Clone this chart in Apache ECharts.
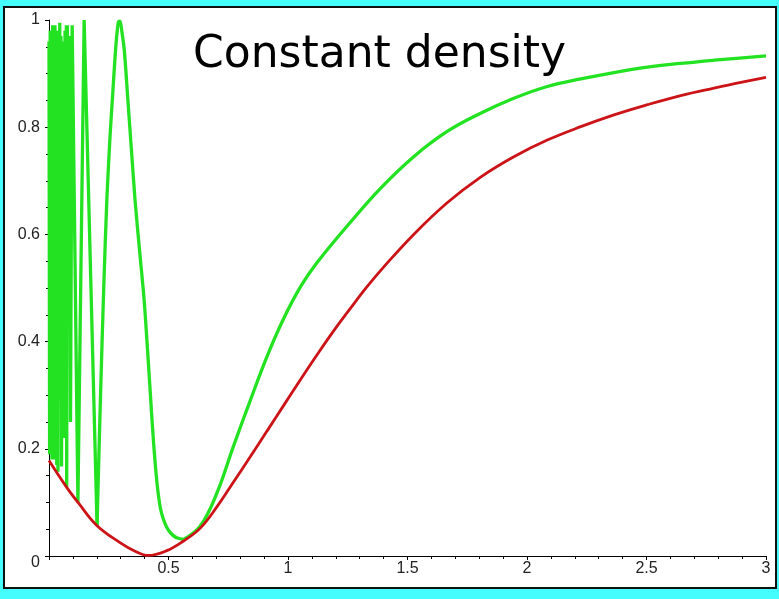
<!DOCTYPE html>
<html>
<head>
<meta charset="utf-8">
<script src="https://cdn.jsdelivr.net/npm/echarts@6/dist/echarts.min.js"></script>
<style>
html,body{margin:0;padding:0;background:#45fdfd;}
#chart{width:779px;height:599px;}
</style>
</head>
<body>
<div id="chart"></div>
<script>
// ---- data ----
const titleText = 'Constant density';
const xTicks = [0.5, 1, 1.5, 2, 2.5, 3];
const yTicks = [0, 0.2, 0.4, 0.6, 0.8, 1];

// red curve (lower envelope)
const redCurve = [
  [0.000, 0.178], [0.074, 0.128], [0.123, 0.099], [0.200, 0.057], [0.297, 0.025],
  [0.360, 0.009], [0.415, 0.001], [0.493, 0.010], [0.563, 0.028], [0.633, 0.052],
  [0.703, 0.092], [0.772, 0.138], [0.842, 0.185], [0.912, 0.233], [0.982, 0.281],
  [1.052, 0.329], [1.121, 0.375], [1.191, 0.420], [1.261, 0.462], [1.330, 0.502],
  [1.400, 0.539], [1.526, 0.600], [1.666, 0.659], [1.806, 0.707], [1.945, 0.745],
  [2.085, 0.776], [2.225, 0.801], [2.364, 0.823], [2.504, 0.842], [2.643, 0.859],
  [2.783, 0.873], [2.890, 0.883], [3.000, 0.893]
];

// green curve: fast oscillating part near zero (sharp zig-zag)
const greenSpikes = [
  [0.000, 0.96], [0.0025, 0.19], [0.005, 0.98], [0.0075, 0.35], [0.010, 0.97],
  [0.0125, 0.18], [0.015, 0.99], [0.0175, 0.50], [0.020, 0.96], [0.0225, 0.18],
  [0.025, 0.99], [0.0275, 0.30], [0.030, 0.97], [0.0325, 0.17], [0.035, 0.98],
  [0.0375, 0.157], [0.040, 0.96], [0.0425, 0.29], [0.045, 0.995], [0.0475, 0.42],
  [0.050, 0.97], [0.0525, 0.167], [0.055, 0.94], [0.058, 0.29], [0.061, 0.96],
  [0.064, 0.22], [0.067, 0.98], [0.070, 0.35], [0.0725, 0.99], [0.074, 0.128],
  [0.077, 0.99], [0.082, 0.45], [0.086, 0.97], [0.090, 0.25], [0.097, 0.99],
  [0.121, 0.100], [0.147, 1.00], [0.201, 0.057]
];

// green curve: rising to the last peak, then down to the minimum
const greenPeak = [
  [0.201, 0.057], [0.215, 0.290], [0.229, 0.500], [0.242, 0.664], [0.255, 0.780],
  [0.267, 0.865], [0.277, 0.935], [0.285, 0.978], [0.291, 0.997], [0.297, 0.998],
  [0.305, 0.978], [0.315, 0.944], [0.330, 0.851], [0.345, 0.757], [0.360, 0.664],
  [0.380, 0.565], [0.398, 0.478], [0.410, 0.400], [0.423, 0.310], [0.437, 0.215],
  [0.451, 0.140], [0.462, 0.100], [0.472, 0.078], [0.486, 0.060], [0.500, 0.048],
  [0.520, 0.038], [0.540, 0.033], [0.563, 0.031]
];

// green curve: slow rise after the minimum
const greenTail = [
  [0.563, 0.031], [0.633, 0.056], [0.703, 0.118], [0.772, 0.205], [0.842, 0.290],
  [0.912, 0.372], [0.982, 0.443], [1.052, 0.502], [1.121, 0.547], [1.254, 0.619],
  [1.387, 0.686], [1.526, 0.745], [1.666, 0.792], [1.806, 0.826], [1.945, 0.854],
  [2.085, 0.876], [2.225, 0.890], [2.364, 0.902], [2.504, 0.912], [2.643, 0.919],
  [2.783, 0.925], [2.890, 0.929], [3.000, 0.933]
];

const chart = echarts.init(document.getElementById('chart'), null, {renderer: 'canvas'});
const labelFont = 'Liberation Sans, Arial, Helvetica, sans-serif';
const green = '#22e222';

chart.setOption({
  backgroundColor: '#45fdfd',
  animation: false,
  title: {
    text: titleText,
    left: 193,
    top: 34,
    padding: 0,
    textStyle: {fontFamily: 'DejaVu Sans', fontSize: 44, fontWeight: 'normal', color: '#000'}
  },
  graphic: [{
    type: 'rect',
    z: -10,
    shape: {x: 4, y: 7, width: 772, height: 581},
    style: {fill: '#ffffff', stroke: '#111111', lineWidth: 2}
  }],
  grid: {left: 49, right: 13, top: 20, bottom: 43, containLabel: false},
  xAxis: {
    type: 'value', min: 0, max: 3, interval: 0.5,
    axisLine: {show: true, onZero: false, lineStyle: {color: '#000', width: 1}},
    axisTick: {show: true, length: 4, lineStyle: {color: '#000'}},
    minorTick: {show: true, splitNumber: 5, length: 3, lineStyle: {color: '#000'}},
    splitLine: {show: false},
    axisLabel: {
      fontFamily: labelFont, fontSize: 16, color: '#222', margin: 5,
      formatter: v => (xTicks.indexOf(v) >= 0 ? String(v) : '')
    }
  },
  yAxis: {
    type: 'value', min: 0, max: 1, interval: 0.2,
    axisLine: {show: true, onZero: false, lineStyle: {color: '#000', width: 1}},
    axisTick: {show: true, length: 4, lineStyle: {color: '#000'}},
    minorTick: {show: true, splitNumber: 4, length: 3, lineStyle: {color: '#000'}},
    splitLine: {show: false},
    axisLabel: {
      fontFamily: labelFont, fontSize: 16, color: '#222', margin: 9,
      formatter: v => {
        const t = yTicks.find(k => Math.abs(k - v) < 1e-9);
        if (t === undefined) return '';
        return t === 0 ? '{low|0}' : String(Math.round(t * 10) / 10);
      },
      rich: {low: {fontFamily: labelFont, fontSize: 16, color: '#222', lineHeight: 30, verticalAlign: 'bottom'}}
    }
  },
  series: [
    {
      type: 'line', data: greenSpikes, showSymbol: false, smooth: false,
      lineStyle: {color: green, width: 3.3}, z: 2
    },
    {
      type: 'line', data: greenPeak, showSymbol: false, smooth: 0.3,
      lineStyle: {color: green, width: 3.3}, z: 2
    },
    {
      type: 'line', data: greenTail, showSymbol: false, smooth: 0.4,
      lineStyle: {color: green, width: 3.3}, z: 2
    },
    {
      type: 'line', data: redCurve, showSymbol: false, smooth: 0.4,
      lineStyle: {color: '#cc1418', width: 2.8}, z: 3
    }
  ]
});
</script>
</body>
</html>
